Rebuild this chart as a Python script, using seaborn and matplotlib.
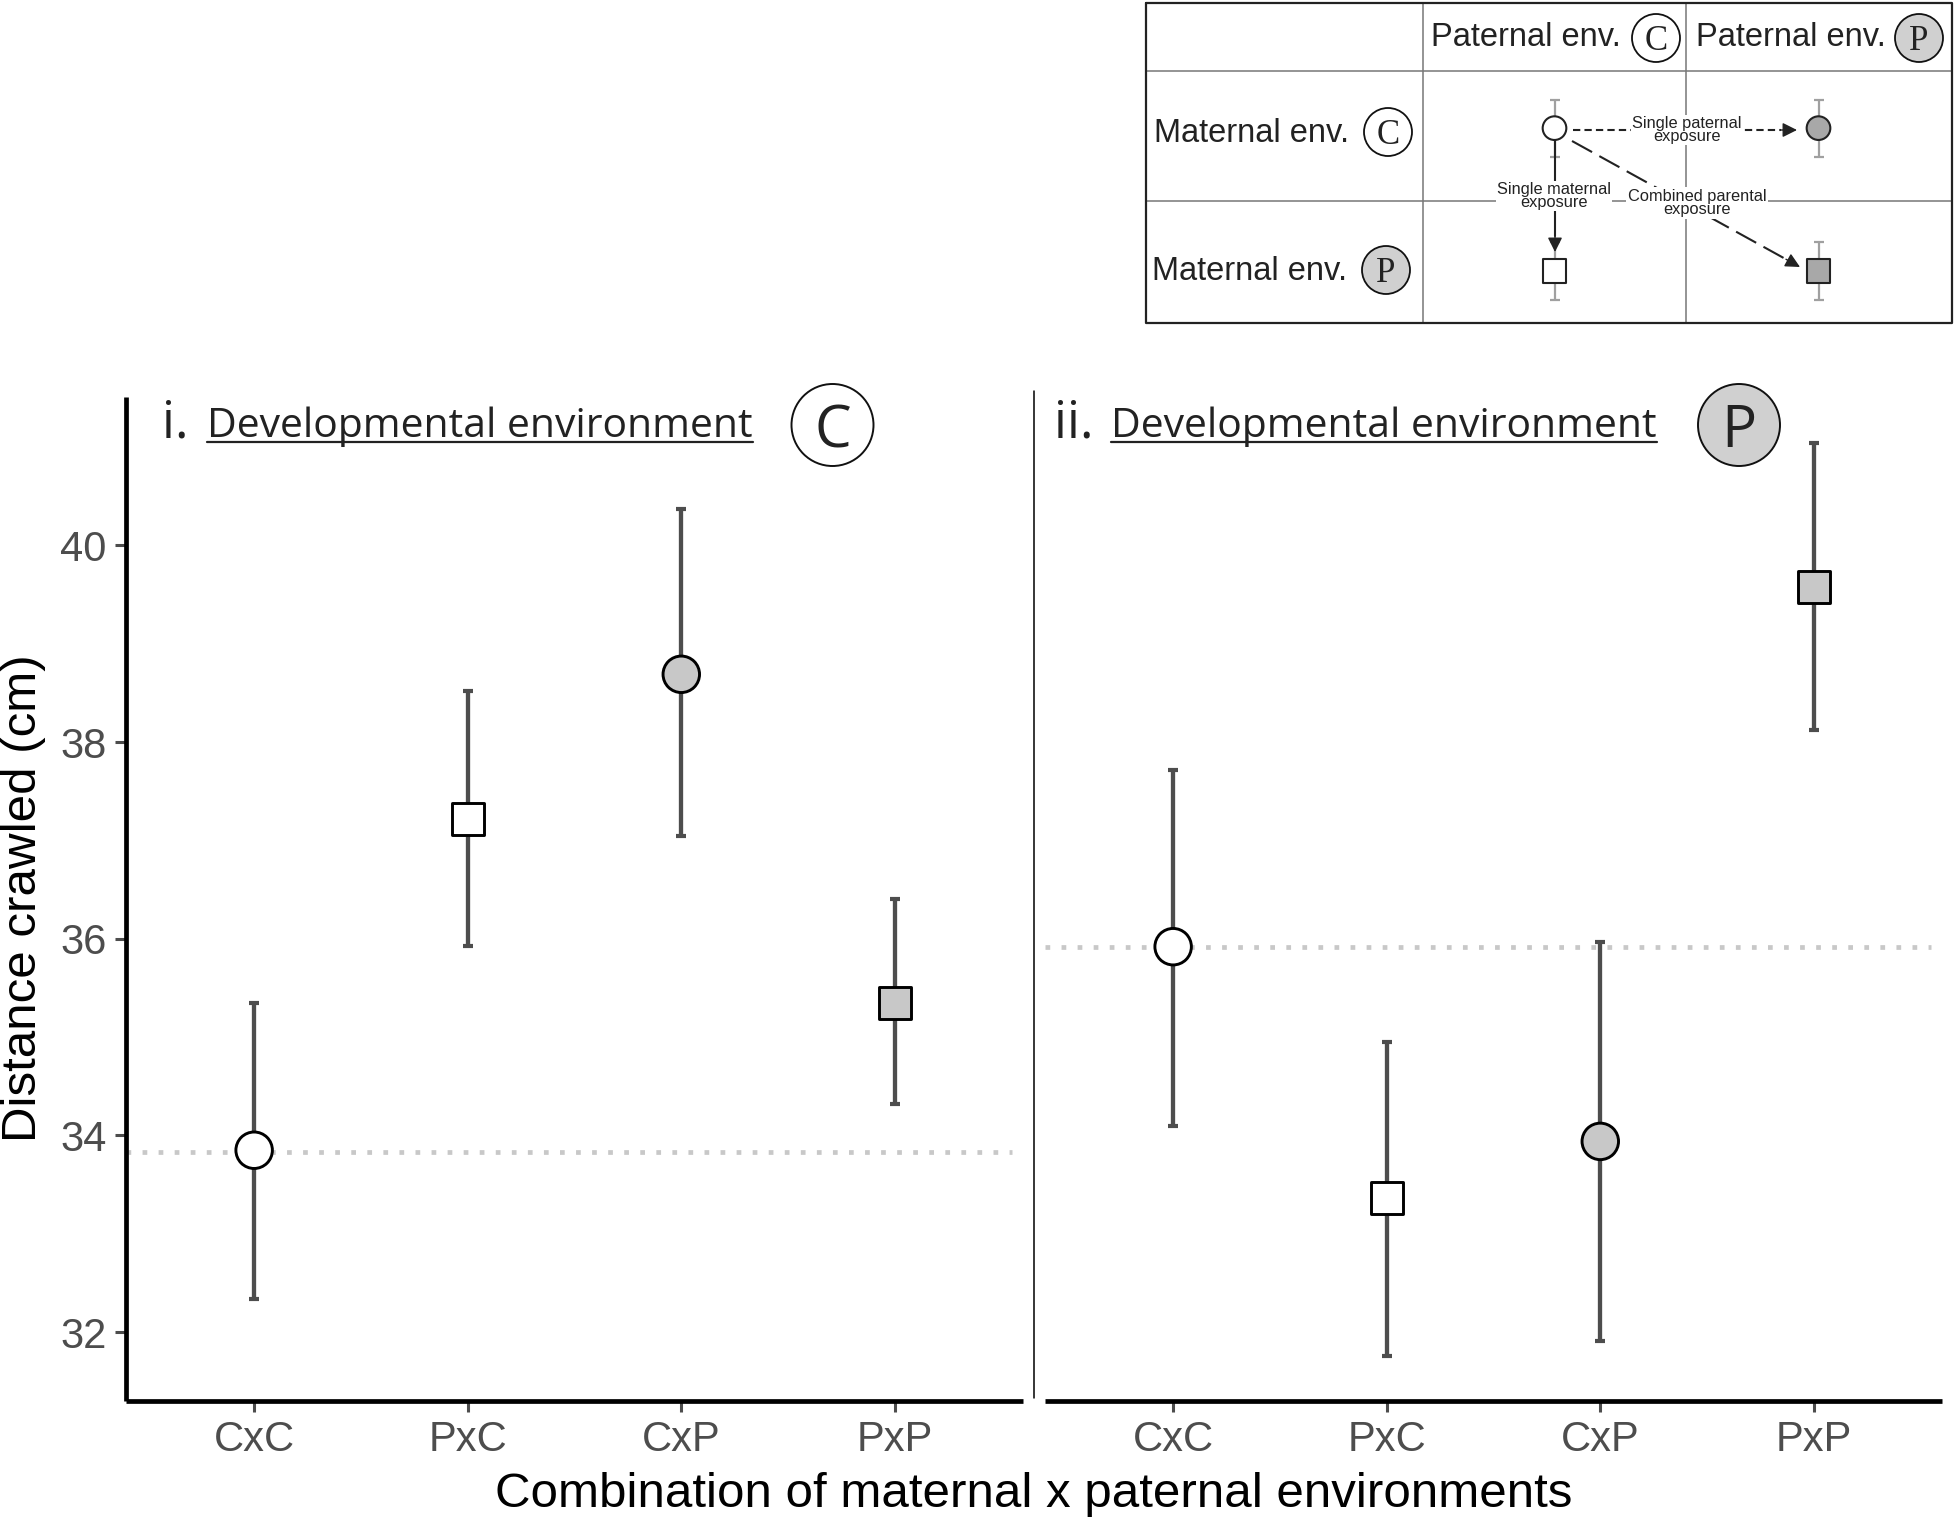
import numpy as np
import pandas as pd
import matplotlib
matplotlib.use("Agg")
import matplotlib.pyplot as plt
from matplotlib.patches import Circle
import seaborn as sns

sns.set_theme(style="ticks")
plt.rcParams['font.family'] = ['Liberation Sans', 'DejaVu Sans']

W, H = 1955, 1520

# Values
combos = ['CxC', 'PxC', 'CxP', 'PxP']
dev_c_mean = [33.85, 37.22, 38.69, 35.35]
dev_c_low = [32.34, 35.93, 37.05, 34.32]
dev_c_high = [35.35, 38.52, 40.37, 36.40]
dev_c_ref = 33.83
dev_p_mean = [35.92, 33.36, 33.94, 39.58]
dev_p_low = [34.10, 31.76, 31.91, 38.12]
dev_p_high = [37.72, 34.95, 35.97, 41.04]
dev_p_ref = 35.92
y_ticks = [32, 34, 36, 38, 40]

# key panel: one point per table cell, bars are in row units
key_cols = [0, 1, 0, 1]
key_rows = [0, 0, 1, 1]
key_err = 0.2

GREY = '#c8c8c8'
markers = {'CxC': 'o', 'PxC': 's', 'CxP': 'o', 'PxP': 's'}
fills = {'CxC': 'white', 'PxC': 'white', 'CxP': GREY, 'PxP': GREY}


def add_axes_px(x0, y0, x1, y1):
    return fig.add_axes([x0 / W, 1 - y1 / H, (x1 - x0) / W, (y1 - y0) / H])


def panel(ax, mean, low, high, ref):
    df = pd.DataFrame({'combo': combos, 'pos': range(len(combos)), 'dist': mean})
    ax.hlines(ref, -0.6, 3.55, color='#c8c8c8', lw=3.4, ls=(0, (1, 2.4)), zorder=1)
    ax.errorbar(df['pos'], df['dist'],
                yerr=[np.array(mean) - np.array(low), np.array(high) - np.array(mean)],
                fmt='none', ecolor='#4d4d4d', elinewidth=3.1, capsize=3.4, capthick=3, zorder=2)
    for marker, s in [('o', 690), ('s', 530)]:
        sub = df[df['combo'].map(markers) == marker]
        sns.scatterplot(data=sub, x='pos', y='dist', hue='combo', palette=fills, marker=marker,
                        s=s, edgecolor='black', linewidth=2.1, legend=False, ax=ax, zorder=3)
    ax.set_xlim(-0.6, 3.6)
    ax.set_ylim(31.30, 41.51)
    ax.set_xticks(range(len(combos)), combos)
    ax.set_xlabel('')
    ax.set_ylabel('')
    ax.tick_params(axis='both', labelsize=30, labelcolor='#4d4d4d', color='#4d4d4d',
                   length=8, width=2.2, pad=6)
    ax.patch.set_alpha(0)
    sns.despine(ax=ax)
    for side in ['bottom', 'left']:
        ax.spines[side].set_linewidth(3.4)
        ax.spines[side].set_color('black')
        ax.spines[side].set_capstyle('butt')


fig = plt.figure(figsize=(W / 100, H / 100), dpi=100)

ax_c = add_axes_px(126, 397, 1023, 1401)
ax_p = add_axes_px(1045, 397, 1942, 1401)
panel(ax_c, dev_c_mean, dev_c_low, dev_c_high, dev_c_ref)
panel(ax_p, dev_p_mean, dev_p_low, dev_p_high, dev_p_ref)
ax_c.set_yticks(y_ticks)
ax_p.set_yticks([])
ax_p.spines['left'].set_visible(False)

fig.supxlabel('Combination of maternal x paternal environments', x=1034 / W, y=1 - 1494.5 / H,
              fontsize=35.5, color='black', va='center', ha='center')
fig.supylabel('Distance crawled (cm)', x=24 / W, y=1 - 898 / H,
              fontsize=35.5, color='black', va='center', ha='center')

# key table marks
ax_key = add_axes_px(1422.5, 71, 1950.5, 323)
ax_key.set_axis_off()
key = pd.DataFrame({'col': key_cols, 'row': key_rows, 'combo': ['a', 'b', 'c', 'd']})
ax_key.errorbar(key['col'], key['row'], yerr=key_err, fmt='none', ecolor='#a0a0a0',
                elinewidth=1.6, capsize=3.6, capthick=1.6, zorder=1)
key_fill = {'a': 'white', 'b': '#a8a8a8', 'c': 'white', 'd': '#a8a8a8'}
for marker, combos_here, s in [('o', ['a', 'b'], 290), ('s', ['c', 'd'], 280)]:
    sns.scatterplot(data=key[key['combo'].isin(combos_here)], x='col', y='row', hue='combo',
                    palette=key_fill, marker=marker, s=s, edgecolor='#222222', linewidth=1.5,
                    legend=False, ax=ax_key, zorder=3)
ax_key.set_xlim(-0.5, 1.5)
ax_key.set_ylim(1.364, -0.4)

# overlay in pixel coordinates for table lines, titles and badges
ov = fig.add_axes([0, 0, 1, 1], zorder=5)
ov.set_xlim(0, W)
ov.set_ylim(H, 0)
ov.set_axis_off()
ov.patch.set_alpha(0)

for x in [1423, 1686]:
    ov.plot([x, x], [3, 323], color='#777777', lw=1.1, zorder=1)
for y in [71, 201]:
    ov.plot([1146, 1952], [y, y], color='#777777', lw=1.1, zorder=1)
ov.plot([1146, 1952, 1952, 1146, 1146], [3, 3, 323, 323, 3], color='#222222', lw=1.6, zorder=1)

# divider between panels
ov.plot([1034, 1034], [391, 1398], color='black', lw=1.1)


def badge(x, y, r, letter, fill, size, family, lw):
    ov.add_patch(Circle((x, y), r, facecolor=fill, edgecolor='#111111', lw=lw, zorder=2))
    ov.text(x, y, letter, fontsize=size, family=family, color='#222222',
            ha='center', va='center_baseline', zorder=3)


for x, letter, fill, cx in [(1431, 'C', 'white', 1656), (1696, 'P', '#d0d0d0', 1919)]:
    ov.text(x, 37, 'Paternal env.', fontsize=23.5, color='#222222', ha='left', va='center')
    badge(cx, 38, 24, letter, fill, 25, 'Liberation Serif', 1.3)
for x, y, letter, fill, cx in [(1154, 133, 'C', 'white', 1388), (1152, 271, 'P', '#d0d0d0', 1386)]:
    ov.text(x, y, 'Maternal env.', fontsize=23.5, color='#222222', ha='left', va='center')
    badge(cx, y - 1, 24, letter, fill, 25, 'Liberation Serif', 1.3)

# panel titles
for x_num, x_txt, num, letter, fill, cx in [(162, 207, 'i.', 'C', 'white', 832.5),
                                            (1054, 1111, 'ii.', 'P', '#d0d0d0', 1739)]:
    ov.text(x_num, 437, num, fontsize=37, family='Open Sans', color='#222222', ha='left', va='baseline')
    ov.text(x_txt, 437, 'Developmental environment', fontsize=29.4, family='Open Sans',
            color='#222222', ha='left', va='baseline')
    ov.plot([x_txt, x_txt + 546], [442, 442], color='#222222', lw=1.6)
    badge(cx, 425, 41, letter, fill, 42, 'Open Sans', 1.4)


# key arrows
def arrow(x0, y0, x1, y1, dashes):
    tail = np.array([x0, y0], dtype=float)
    tip = np.array([x1, y1], dtype=float)
    u = (tip - tail) / np.hypot(*(tip - tail))
    neck = tip - u * 16
    ov.plot([tail[0], neck[0]], [tail[1], neck[1]], color='#222222', lw=1.5,
            ls=dashes, zorder=2)
    ov.annotate('', xy=tip, xytext=neck, zorder=2,
                arrowprops=dict(arrowstyle='-|>', color='#222222', lw=1,
                                mutation_scale=22, shrinkA=0, shrinkB=0))


arrow(1573, 130, 1797, 130, (0, (3.5, 2)))
arrow(1555, 140, 1555, 252, '-')
arrow(1572, 141, 1800, 267, (0, (11, 4)))

box = dict(facecolor='white', edgecolor='none', pad=1)
ov.text(1687, 130, 'Single paternal\nexposure', fontsize=11.8, linespacing=0.85, color='#222222',
        ha='center', va='center', bbox=box, zorder=4)
ov.text(1554, 196, 'Single maternal\nexposure', fontsize=11.8, linespacing=0.85, color='#222222',
        ha='center', va='center', bbox=box, zorder=4)
ov.text(1697, 203, 'Combined parental\nexposure', fontsize=11.8, linespacing=0.9, color='#222222',
        ha='center', va='center', bbox=box, zorder=4)

fig.savefig('out.png', dpi=100)
